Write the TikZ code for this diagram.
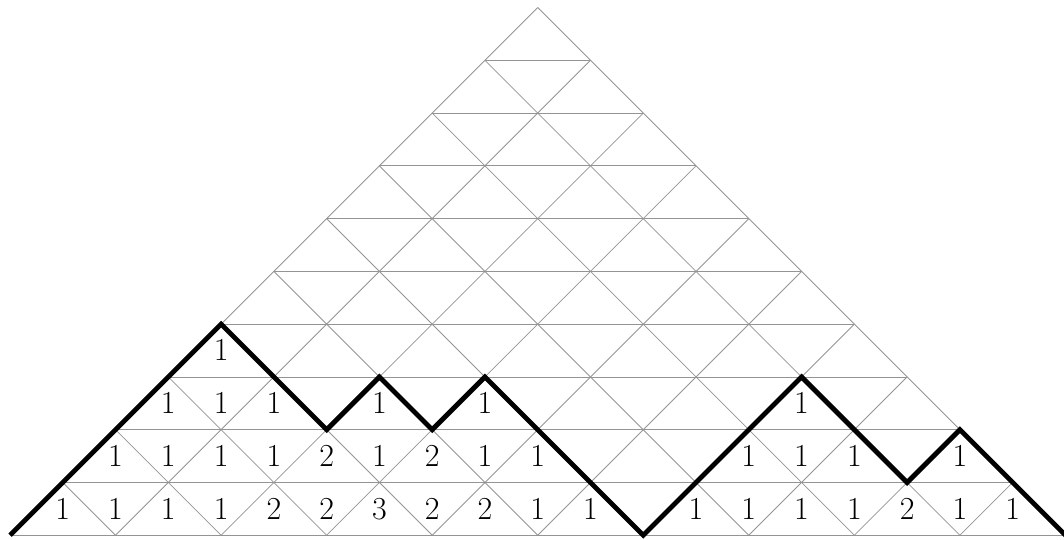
\documentclass[tikz,border=0pt]{standalone}
\usetikzlibrary{calc}
\begin{document}
\begin{tikzpicture}[
  gridline/.style={draw=black!42, line width=0.45pt},
  pathline/.style={draw=black, line width=2.6pt, line join=miter, line cap=butt},
  num/.style={inner sep=0pt, font=\fontsize{16}{19}\selectfont}
]
\useasboundingbox (-0.19,-0.09) rectangle (19.973,10.143);
% horizontal lines
\foreach \k in {0,...,9} {
  \draw[gridline] (\k,\k) -- ({20-\k},\k);
}
% diagonals of slope +1
\foreach \i in {0,...,9} {
  \draw[gridline] ({2*\i},0) -- ({10+\i},{10-\i});
}
% diagonals of slope -1
\foreach \i in {1,...,10} {
  \draw[gridline] ({2*\i},0) -- (\i,\i);
}
% numbers: row 0
\foreach \j/\v in {1/1,2/1,3/1,4/1,5/2,6/2,7/3,8/2,9/2,10/1,11/1,13/1,14/1,15/1,16/1,17/2,18/1,19/1} {
  \node[num] (a\j) at (\j,0.5) {$\v$};
}
% row 1
\foreach \j/\v in {2/1,3/1,4/1,5/1,6/2,7/1,8/2,9/1,10/1,14/1,15/1,16/1,18/1} {
  \node[num] (b\j) at (\j,1.5) {$\v$};
}
% row 2
\foreach \j/\v in {3/1,4/1,5/1,7/1,9/1,15/1} {
  \node[num] (c\j) at (\j,2.5) {$\v$};
}
% row 3
\node[num] (d4) at (4,3.5) {$1$};
% thick path
\coordinate (p0) at (0,0);
\coordinate (p1) at (4,4);
\coordinate (p2) at (6,2);
\coordinate (p3) at (7,3);
\coordinate (p4) at (8,2);
\coordinate (p5) at (9,3);
\coordinate (p6) at (12,0);
\coordinate (p7) at (15,3);
\coordinate (p8) at (17,1);
\coordinate (p9) at (18,2);
\coordinate (p10) at (20,0);
\draw[pathline] (p0) -- (p1) -- (p2) -- (p3) -- (p4) -- (p5) -- (p6) -- (p7) -- (p8) -- (p9) -- (p10);
\end{tikzpicture}
\end{document}
